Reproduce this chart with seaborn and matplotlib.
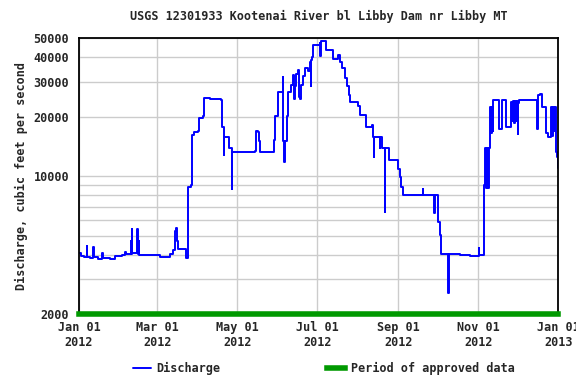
import matplotlib
matplotlib.use("Agg")
import matplotlib.pyplot as plt
import matplotlib.dates as mdates
import seaborn as sns
import pandas as pd

# discharge, cfs: breakpoints (days since Jan 01 2012)
day_offsets = [
    0, 1.5, 3.8, 5.9, 6.5, 8.4, 10.7, 11.5, 14.5, 17.6, 18.3, 23.7, 27.5, 32.9,
    35.0, 35.9, 39.7, 40.1, 40.5, 40.9, 44.3, 44.8, 45.8, 46.2, 54.0, 62.0,
    69.5, 71.8, 73.3, 74.0, 74.9, 75.6, 81.0, 81.8, 83.3, 85.6, 86.3, 87.9,
    90.9, 91.7, 94.7, 95.5, 100.0, 108.5, 109.3, 110.8, 111.1, 113.9, 114.6,
    116.9, 117.2, 134.5, 135.3, 136.8, 137.5, 138.3, 148.2, 149.0, 149.8,
    152.0, 155.5, 156.2, 157.0, 157.4, 158.9, 159.7, 162.0, 163.5, 164.3,
    165.0, 165.8, 167.3, 168.0, 168.9, 169.6, 171.2, 172.7, 175.0, 176.5,
    177.3, 177.6, 178.0, 178.8, 184.2, 184.4, 184.6, 188.7, 189.0, 194.0,
    194.3, 197.9, 199.4, 201.0, 203.3, 204.8, 206.3, 207.0, 213.0, 214.6,
    219.3, 223.9, 224.6, 225.3, 225.6, 230.0, 230.3, 231.5, 233.8, 234.1,
    236.8, 243.7, 245.3, 246.0, 247.6, 262.8, 263.1, 271.3, 271.6, 274.3,
    275.8, 276.6, 282.0, 282.3, 291.0, 298.8, 305.6, 305.9, 309.5, 310.2,
    310.9, 311.7, 312.5, 312.9, 314.0, 314.7, 315.5, 316.0, 316.4, 320.9,
    323.2, 326.3, 330.0, 330.8, 331.6, 332.3, 333.1, 333.9, 334.6, 335.0,
    335.4, 336.0, 349.0, 349.9, 350.6, 352.1, 353.8, 356.8, 358.3, 360.6,
    361.4, 362.2, 362.9, 363.7, 364.5, 365.2, 366.0,
]
discharge = [
    4100, 3950, 3900, 4400, 3900, 3850, 4350, 3900, 3800, 4100, 3850, 3800,
    3950, 4000, 4150, 4050, 4700, 4050, 5400, 4100, 5400, 4050, 4700, 4000,
    4000, 3900, 4050, 4200, 5300, 5450, 4700, 4250, 4250, 3850, 8800, 9000,
    16200, 16700, 17000, 19700, 20200, 24800, 24500, 24200, 17800, 12800,
    15800, 15800, 13800, 8600, 13300, 13400, 16900, 16700, 15100, 13300,
    13300, 15200, 20100, 26600, 31600, 15000, 11800, 15000, 20100, 26600,
    29000, 32500, 24500, 28500, 33000, 34500, 25000, 24500, 29000, 32000,
    35400, 34000, 38000, 28500, 38500, 40000, 46300, 47000, 40500, 48300,
    48000, 43600, 43000, 39000, 41000, 38000, 35300, 31300, 28500, 25600,
    23700, 22600, 20300, 17800, 18200, 15800, 12500, 15800, 13900, 15800,
    13800, 6600, 13800, 12000, 10900, 9900, 8800, 8000, 8600, 8000, 6500,
    8000, 5850, 5050, 4050, 2550, 4050, 4000, 3950, 4300, 4000, 9000, 13900,
    8700, 13900, 8700, 13900, 22500, 16600, 22500, 17000, 24300, 17300,
    24300, 17800, 23700, 19000, 24000, 18500, 24000, 19000, 24000, 16300,
    23500, 24300, 24300, 17300, 25600, 26000, 22500, 16600, 15800, 22500,
    16000, 22500, 17000, 22500, 13200, 12500, 11000,
]

ytick_values = [2000, 10000, 20000, 30000, 40000, 50000]
ygrid_minor = [3000, 4000, 5000, 6000, 7000, 8000, 9000]
approved_span = ["2012-01-01", "2013-01-01"]

start = pd.Timestamp("2012-01-01")
df = pd.DataFrame({
    "time": start + pd.to_timedelta(day_offsets, unit="D"),
    "discharge": discharge,
})

sns.set_style("white")
plt.rcParams["font.family"] = ["DejaVu Sans Mono"]
plt.rcParams["font.weight"] = "bold"
fs = 8.5

fig = plt.figure(figsize=(5.76, 3.84), dpi=100)
ax = fig.add_axes([0.137, 0.182, 0.832, 0.719])

sns.lineplot(data=df, x="time", y="discharge", ax=ax, color="#0000ff",
             linewidth=1.4, drawstyle="steps-post", estimator=None,
             label="Discharge", legend=False)

ax.plot(pd.to_datetime(approved_span), [2000, 2000], color="#009900",
        linewidth=4, solid_capstyle="projecting", clip_on=False, zorder=4,
        label="Period of approved data")

ax.set_yscale("log")
ax.set_ylim(2000, 50000)
ax.set_xlim(pd.Timestamp("2012-01-01"), pd.Timestamp("2013-01-01"))
ax.set_yticks(ytick_values)
ax.set_yticklabels([str(v) for v in ytick_values], fontsize=fs, fontweight="bold")
ax.set_yticks(ygrid_minor, minor=True)
ax.yaxis.set_minor_formatter(matplotlib.ticker.NullFormatter())

ax.xaxis.set_major_locator(mdates.MonthLocator(bymonth=[1, 3, 5, 7, 9, 11]))
ax.xaxis.set_major_formatter(mdates.DateFormatter("%b %d\n%Y"))
for lab in ax.get_xticklabels():
    lab.set_fontsize(fs)
    lab.set_fontweight("bold")

ax.grid(which="both", color="#cccccc", linewidth=1)
ax.tick_params(which="both", length=0)
ax.tick_params(axis="y", pad=7)
ax.tick_params(axis="x", pad=5)
for s in ax.spines.values():
    s.set_color("black")
    s.set_linewidth(1.3)

ax.set_xlabel("")
ax.set_ylabel("Discharge, cubic feet per second", fontsize=fs,
              fontweight="bold", labelpad=4)
ax.set_title("USGS 12301933 Kootenai River bl Libby Dam nr Libby MT",
             fontsize=fs, fontweight="bold", pad=13)

handles, labels = ax.get_legend_handles_labels()
fig.legend(handles, labels, loc="lower center", bbox_to_anchor=(0.562, -0.005),
           ncol=2, frameon=False, fontsize=fs, handlelength=1.5,
           handletextpad=0.5, columnspacing=9)

fig.savefig("out.png", dpi=100)
plt.close(fig)
